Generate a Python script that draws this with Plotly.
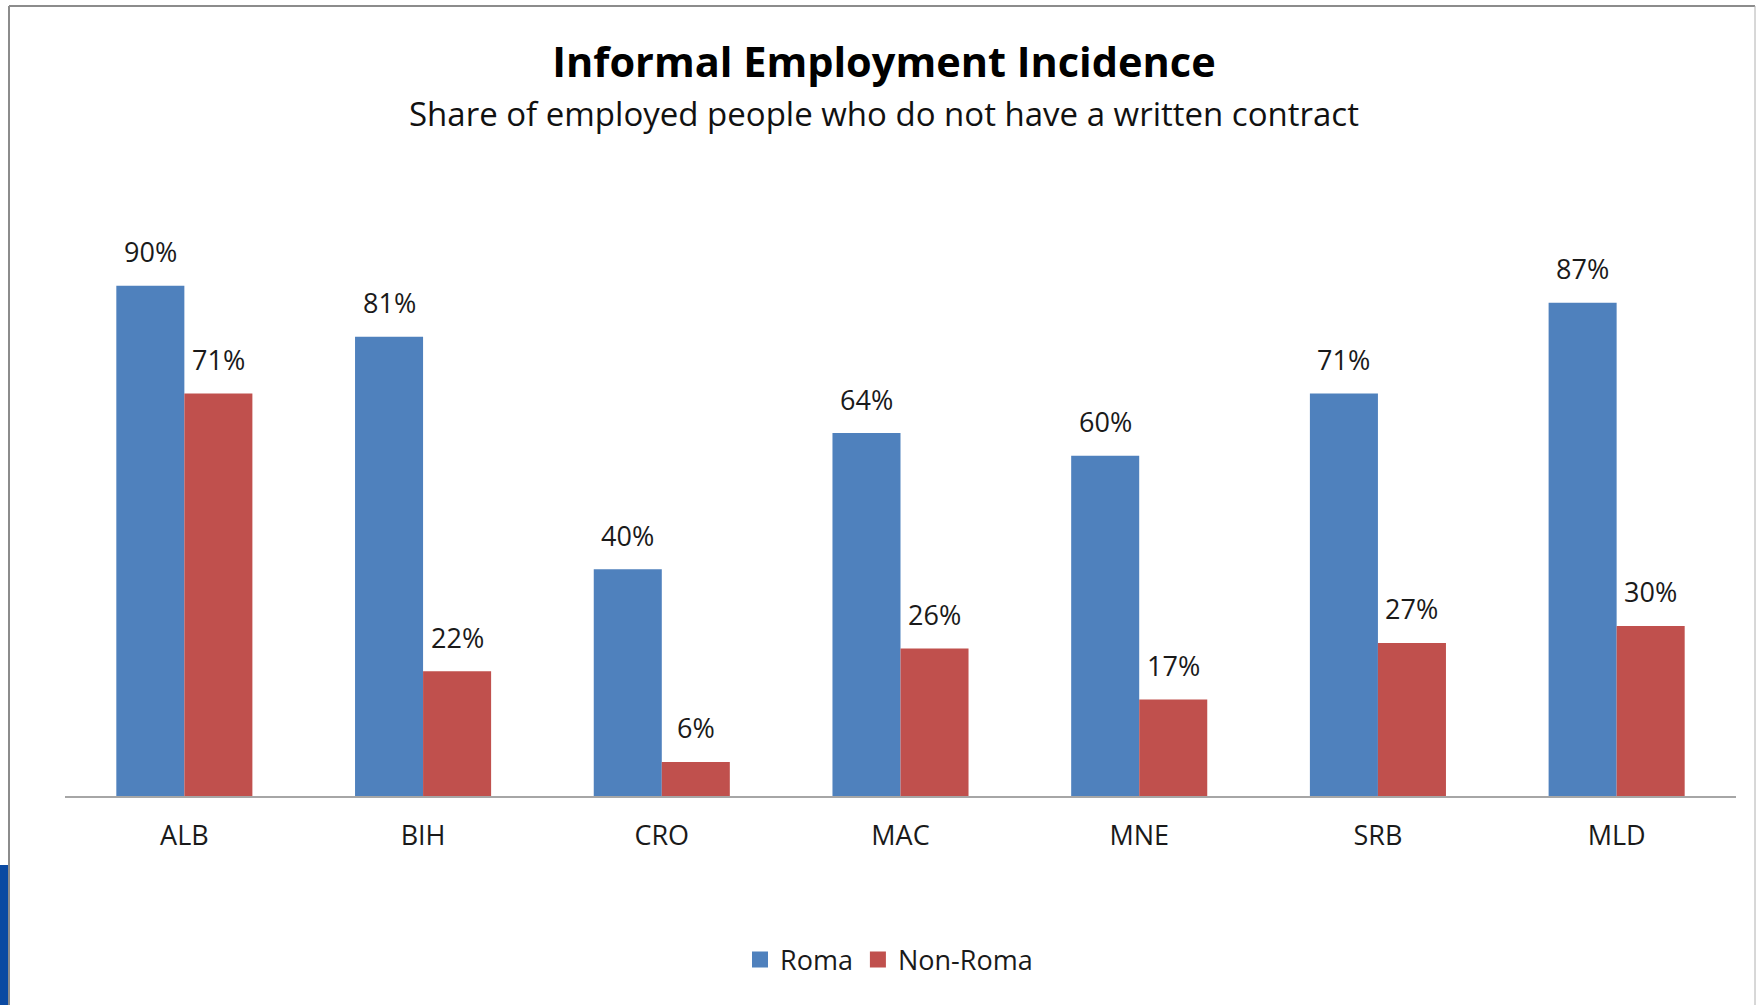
import plotly.graph_objects as go

# Informal employment incidence by country, Roma vs non-Roma (%)
countries = ["ALB", "BIH", "CRO", "MAC", "MNE", "SRB", "MLD"]
roma = [90, 81, 40, 64, 60, 71, 87]
non_roma = [71, 22, 6, 26, 17, 27, 30]
series_names = ["Roma", "Non-Roma"]

ROMA_COLOR = "#4F81BD"
NON_ROMA_COLOR = "#C0504D"
FONT = "Open Sans"

W, H = 1758, 1005
L, R, T, B = 65, 22, 229, 209
PLOT_W = W - L - R
PLOT_H = H - T - B


def px_x(px):
    return (px - L) / PLOT_W


def px_y(py):
    return (H - B - py) / PLOT_H


fig = go.Figure()
for name, vals, color in [(series_names[0], roma, ROMA_COLOR),
                          (series_names[1], non_roma, NON_ROMA_COLOR)]:
    fig.add_trace(go.Bar(
        x=countries, y=vals, name=name, marker_color=color,
        marker_line_width=0, showlegend=False, hoverinfo="x+y+name",
    ))
    # legend swatch
    fig.add_trace(go.Scatter(
        x=[None], y=[None], mode="markers", name=name,
        marker=dict(symbol="square", size=16, color=color),
    ))

# value labels above each bar
bar_offset = PLOT_W / len(countries) * (1 - 0.43) / 4
annotations = []
for vals, shift in [(roma, -bar_offset), (non_roma, bar_offset)]:
    for c, v in zip(countries, vals):
        annotations.append(dict(
            x=c, y=v, xref="x", yref="y", text=f"{v}%", showarrow=False,
            xshift=shift, yshift=34, yanchor="middle",
            font=dict(family=FONT, size=27, color="#1a1a1a"),
        ))

# subtitle
annotations.append(dict(
    x=px_x(884), y=px_y(113), xref="paper", yref="paper",
    text="Share of employed people who do not have a written contract",
    showarrow=False, xanchor="center", yanchor="middle",
    font=dict(family=FONT, size=33, color="#111111"),
))

shapes = [
    # outer frame
    dict(type="line", xref="paper", yref="paper", x0=px_x(9), x1=px_x(9),
         y0=px_y(6), y1=px_y(H), line=dict(color="#8c8c8c", width=2)),
    dict(type="line", xref="paper", yref="paper", x0=px_x(9), x1=px_x(1755),
         y0=px_y(6), y1=px_y(6), line=dict(color="#8c8c8c", width=2)),
    dict(type="line", xref="paper", yref="paper", x0=px_x(1755), x1=px_x(1755),
         y0=px_y(6), y1=px_y(H), line=dict(color="#b0b0b0", width=1)),
    # blue strip at lower left edge
    dict(type="rect", xref="paper", yref="paper", x0=px_x(0), x1=px_x(8),
         y0=px_y(865), y1=px_y(H), fillcolor="#0B4AA2", line_width=0),
]

fig.update_layout(
    width=W, height=H,
    margin=dict(l=L, r=R, t=T, b=B),
    paper_bgcolor="white", plot_bgcolor="white",
    barmode="group", bargap=0.43, bargroupgap=0,
    title=dict(
        text="<b>Informal Employment Incidence</b>",
        x=884 / W, y=1 - 62 / H, xref="container", yref="container",
        xanchor="center", yanchor="middle",
        font=dict(family=FONT, size=41.5, color="#000000"),
    ),
    xaxis=dict(
        showline=True, linecolor="#a6a6a6", linewidth=2,
        ticks="outside", ticklen=15, tickcolor="rgba(0,0,0,0)",
        tickfont=dict(family=FONT, size=27, color="#1a1a1a"),
        showgrid=False, zeroline=False,
    ),
    yaxis=dict(range=[0, 100], visible=False, showgrid=False, zeroline=False),
    legend=dict(
        orientation="h", x=px_x(889), y=px_y(960),
        xanchor="center", yanchor="middle",
        font=dict(family=FONT, size=27, color="#1a1a1a"),
        itemwidth=30, itemsizing="trace",
    ),
    annotations=annotations,
    shapes=shapes,
)

fig.write_html("out.html")
